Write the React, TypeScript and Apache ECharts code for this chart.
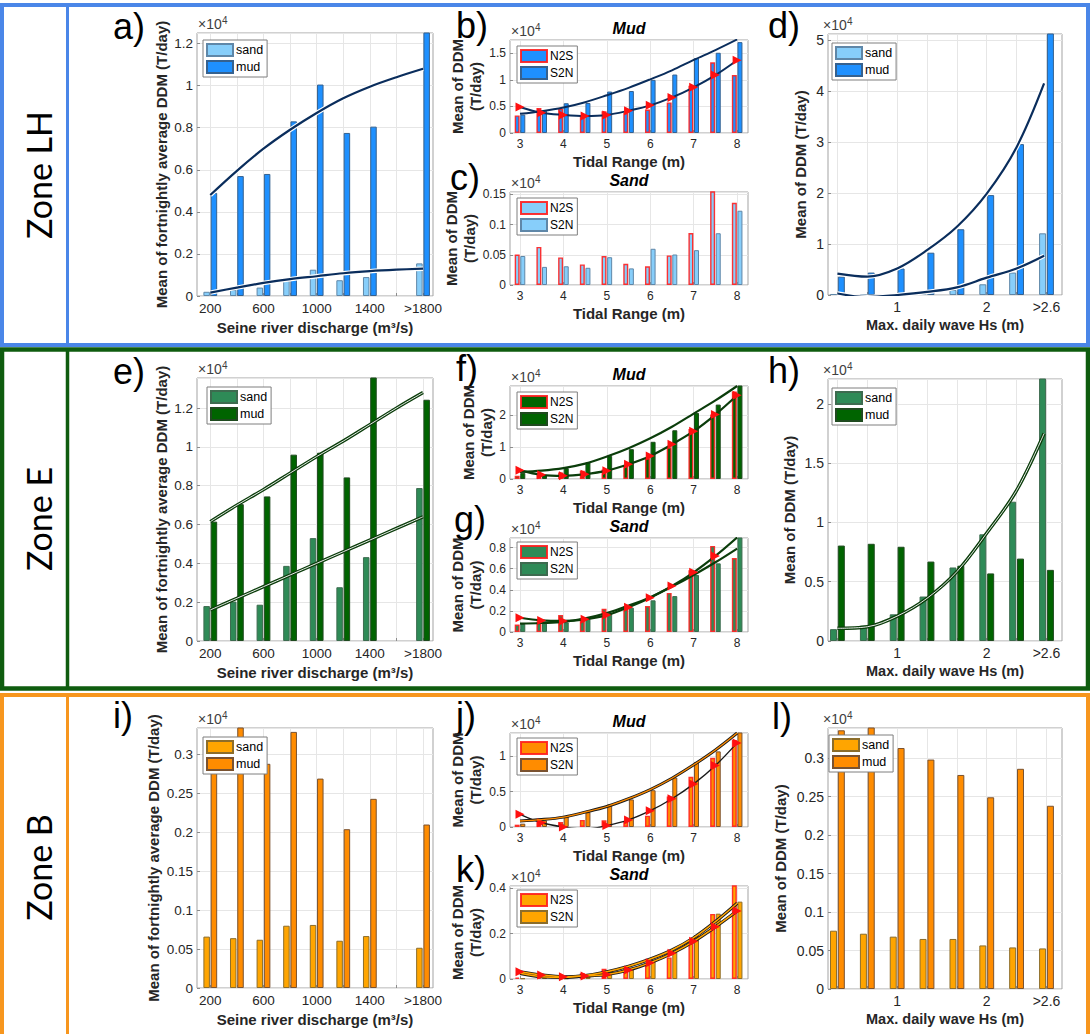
import React, { useEffect, useRef } from 'react';
import * as echarts from 'echarts';

// ---------------- x positions & tick labels ----------------
const dischargeX = [200, 400, 600, 800, 1000, 1200, 1400, 1600, 1800];
const dischargeTickValues = [200, 400, 600, 800, 1000, 1200, 1400, 1600, 1800];
const dischargeLabelValues = [200, 600, 1000, 1400, 1800];
const dischargeLabelTexts = ['200', '600', '1000', '1400', '>1800'];

const tidalX = [3, 3.5, 4, 4.5, 5, 5.5, 6, 6.5, 7, 7.5, 8];
const tidalLabelValues = [3, 4, 5, 6, 7, 8];
const tidalLabelTexts = ['3', '4', '5', '6', '7', '8'];

const waveX = [0.333, 0.667, 1, 1.333, 1.667, 2, 2.333, 2.667];
const waveFitX = [0.333, 0.667, 1, 1.333, 1.667, 2, 2.333, 2.64];
const waveLabelValues = [1, 2, 2.667];
const waveLabelTexts = ['1', '2', '>2.6'];

// ---------------- data (units: x10^4 T/day) ----------------
// a) Zone LH, discharge
const aSand = [0.02, 0.03, 0.04, 0.075, 0.125, 0.075, 0.09, null, 0.155];
const aMud = [0.49, 0.57, 0.58, 0.83, 1.005, 0.775, 0.805, null, 1.3];
const aSandFit = [0.016, 0.04, 0.062, 0.08, 0.094, 0.108, 0.118, 0.125, 0.13];
const aMudFit = [0.48, 0.595, 0.7, 0.79, 0.87, 0.94, 0.995, 1.04, 1.08];
// b) Zone LH, mud vs tidal range
const bN2S = [0.33, 0.47, 0.455, 0.31, 0.41, 0.375, 0.44, 0.575, 0.89, 1.33, 1.09];
const bS2N = [0.345, 0.42, 0.56, 0.565, 0.78, 0.79, 1.0, 1.1, 1.41, 1.51, 1.71];
const bN2SFit = [0.49, 0.38, 0.34, 0.32, 0.34, 0.42, 0.52, 0.67, 0.86, 1.09, 1.37];
const bS2NFit = [0.36, 0.41, 0.48, 0.58, 0.71, 0.85, 1.01, 1.18, 1.375, 1.56, 1.76];
// c) Zone LH, sand vs tidal range
const cN2S = [0.0505, 0.063, 0.0456, 0.034, 0.048, 0.035, 0.031, 0.049, 0.086, 0.16, 0.136];
const cS2N = [0.048, 0.03, 0.031, 0.0285, 0.046, 0.0275, 0.06, 0.0505, 0.0577, 0.0857, 0.123];
// d) Zone LH, wave
const dSand = [0.02, 0.01, 0.02, 0.03, 0.1, 0.21, 0.44, 1.21];
const dMud = [0.36, 0.44, 0.52, 0.83, 1.29, 1.96, 2.96, 5.3];
const dSandFit = [0.03, -0.04, 0.0, 0.06, 0.15, 0.34, 0.52, 0.77];
const dMudFit = [0.42, 0.36, 0.52, 0.88, 1.34, 1.99, 2.9, 4.15];
// e) Zone E, discharge
const eSand = [0.18, 0.203, 0.187, 0.387, 0.53, 0.277, 0.432, null, 0.788];
const eMud = [0.615, 0.705, 0.745, 0.96, 0.97, 0.843, 1.4, null, 1.243];
const eSandFit = [0.16, 0.22, 0.28, 0.34, 0.4, 0.46, 0.52, 0.58, 0.64];
const eMudFit = [0.615, 0.7, 0.78, 0.865, 0.95, 1.03, 1.115, 1.2, 1.28];
// f) Zone E, mud vs tidal range
const fN2S = [0.1, 0.13, 0.2, 0.26, 0.3, 0.41, 0.65, 0.99, 1.56, 2.01, 2.73];
const fS2N = [0.19, 0.13, 0.34, 0.52, 0.72, 0.93, 1.16, 1.52, 2.06, 2.32, 2.95];
const fN2SFit = [0.27, 0.13, 0.1, 0.15, 0.26, 0.46, 0.72, 1.08, 1.49, 2.01, 2.61];
const fS2NFit = [0.22, 0.26, 0.34, 0.48, 0.7, 0.96, 1.27, 1.63, 2.04, 2.45, 2.9];
// g) Zone E, sand vs tidal range
const gN2S = [0.07, 0.1, 0.16, 0.11, 0.22, 0.245, 0.245, 0.37, 0.585, 0.815, 0.7];
const gS2N = [0.076, 0.08, 0.09, 0.125, 0.175, 0.23, 0.3, 0.34, 0.54, 0.65, 0.9];
const gN2SFit = [0.135, 0.11, 0.105, 0.12, 0.16, 0.235, 0.325, 0.435, 0.565, 0.72, 0.895];
const gS2NFit = [0.08, 0.085, 0.095, 0.13, 0.18, 0.25, 0.33, 0.43, 0.54, 0.66, 0.79];
// h) Zone E, wave
const hSand = [0.1, 0.13, 0.225, 0.375, 0.62, 0.9, 1.175, 2.3];
const hMud = [0.805, 0.82, 0.795, 0.67, 0.635, 0.57, 0.695, 0.6];
const hSandFit = [0.107, 0.12, 0.21, 0.36, 0.585, 0.91, 1.27, 1.75];
// i) Zone B, discharge
const iSand = [0.066, 0.064, 0.062, 0.08, 0.081, 0.0607, 0.0667, null, 0.0517];
const iMud = [0.31, 0.34, 0.288, 0.329, 0.269, 0.204, 0.243, null, 0.21];
// j) Zone B, mud vs tidal range
const jN2S = [0.033, 0.07, 0.07, 0.1, 0.095, 0.08, 0.16, 0.43, 0.71, 0.98, 1.23];
const jS2N = [0.047, 0.095, 0.15, 0.21, 0.32, 0.39, 0.52, 0.7, 0.92, 1.07, 1.35];
const jN2SFit = [0.18, 0.06, 0.0, -0.03, 0.02, 0.1, 0.23, 0.4, 0.61, 0.87, 1.19];
const jS2NFit = [0.085, 0.105, 0.14, 0.21, 0.29, 0.4, 0.53, 0.69, 0.88, 1.09, 1.33];
// k) Zone B, sand vs tidal range
const kN2S = [0.006, 0.006, 0.003, 0.025, 0.045, 0.053, 0.065, 0.095, 0.168, 0.287, 0.42];
const kS2N = [0.003, 0.006, 0.003, 0.013, 0.03, 0.05, 0.085, 0.12, 0.194, 0.288, 0.341];
const kN2SFit = [0.032, 0.018, 0.01, 0.013, 0.02, 0.04, 0.072, 0.113, 0.166, 0.23, 0.3];
const kS2NFit = [0.025, 0.01, 0.007, 0.015, 0.032, 0.056, 0.088, 0.128, 0.182, 0.253, 0.334];
// l) Zone B, wave
const lSand = [0.0757, 0.0718, 0.068, 0.065, 0.065, 0.0566, 0.054, 0.0527];
const lMud = [0.336, 0.345, 0.313, 0.298, 0.278, 0.249, 0.286, 0.238];

// ---------------- styles ----------------
const FONT = '"Liberation Sans", Arial, Helvetica, sans-serif';
const COL = {
  lhSand: '#87cefa', lhSandEdge: '#5f87a8', lhMud: '#1e90ff', lhMudEdge: '#35618f',
  eSand: '#2e8b57', eSandEdge: '#3d6b4f', eMud: '#006400', eMudEdge: '#1f4a1f',
  bSand: '#ffa500', bSandEdge: '#8c6d2a', bMud: '#ff8c00', bMudEdge: '#7a5230',
  red: 'rgba(255,30,30,0.9)', navy: '#0a2d5c', dkGreen: '#0b3d0b', black: '#1a1a1a',
};

type Layer = { color: string; width: number };
type Fit = { values: number[]; x?: number[]; layers: Layer[]; markers?: boolean };
type BarDef = { label: string; values: (number | null)[]; color: string; edge: string; edgeWidth?: number };
type Panel = {
  key: string; letter: string; letterPos: [number, number];
  grid: [number, number, number, number];
  kind: 'discharge' | 'tidal' | 'wave';
  yMax: number; yInterval: number; yName: string; yNameGap: number;
  title?: string; legendPos: [number, number];
  bars: BarDef[]; fits: Fit[];
};

const Y_LONG = 'Mean of fortnightly average DDM (T/day)';
const Y_TWO = 'Mean of DDM\n(T/day)';
const Y_ONE = 'Mean of DDM (T/day)';

const haloLH: Layer[] = [{ color: '#ffffff', width: 4.5 }, { color: COL.navy, width: 2.2 }];
const haloE: Layer[] = [{ color: COL.dkGreen, width: 3.4 }, { color: '#ffffff', width: 0.9 }];
const plainLH: Layer[] = [{ color: COL.navy, width: 2 }];
const plainE: Layer[] = [{ color: COL.dkGreen, width: 2.2 }];
const haloBj: Layer[] = [{ color: COL.black, width: 3 }, { color: COL.bMud, width: 1.3 }];
const haloBk: Layer[] = [{ color: COL.black, width: 3.2 }, { color: COL.bSand, width: 1.5 }];

const panels: Panel[] = [
  { key: 'a', letter: 'a)', letterPos: [113, 26], grid: [197, 33, 236, 263], kind: 'discharge', yMax: 1.25, yInterval: 0.2, yName: Y_LONG, yNameGap: 24, legendPos: [203, 40],
    bars: [{ label: 'sand', values: aSand, color: COL.lhSand, edge: COL.lhSandEdge }, { label: 'mud', values: aMud, color: COL.lhMud, edge: COL.lhMudEdge }],
    fits: [{ values: aSandFit, layers: haloLH }, { values: aMudFit, layers: haloLH }] },
  { key: 'b', letter: 'b)', letterPos: [456, 25], grid: [510, 40, 238, 93], kind: 'tidal', yMax: 1.75, yInterval: 0.5, yName: Y_TWO, yNameGap: 26, title: 'Mud', legendPos: [517, 46],
    bars: [{ label: 'N2S', values: bN2S, color: COL.lhMud, edge: COL.red, edgeWidth: 1.4 }, { label: 'S2N', values: bS2N, color: COL.lhMud, edge: COL.lhMudEdge }],
    fits: [{ values: bS2NFit, layers: plainLH }, { values: bN2SFit, layers: plainLH, markers: true }] },
  { key: 'c', letter: 'c)', letterPos: [450, 177], grid: [510, 192, 238, 93], kind: 'tidal', yMax: 0.154, yInterval: 0.05, yName: Y_TWO, yNameGap: 30, title: 'Sand', legendPos: [517, 198],
    bars: [{ label: 'N2S', values: cN2S, color: COL.lhSand, edge: COL.red, edgeWidth: 1.4 }, { label: 'S2N', values: cS2N, color: COL.lhSand, edge: COL.lhSandEdge }],
    fits: [] },
  { key: 'd', letter: 'd)', letterPos: [768, 25], grid: [828, 34, 234, 261], kind: 'wave', yMax: 5.12, yInterval: 1, yName: Y_ONE, yNameGap: 19, legendPos: [832, 43],
    bars: [{ label: 'sand', values: dSand, color: COL.lhSand, edge: COL.lhSandEdge }, { label: 'mud', values: dMud, color: COL.lhMud, edge: COL.lhMudEdge }],
    fits: [{ values: dSandFit, x: waveFitX, layers: haloLH }, { values: dMudFit, x: waveFitX, layers: haloLH }] },
  { key: 'e', letter: 'e)', letterPos: [113, 371], grid: [197, 378, 236, 263], kind: 'discharge', yMax: 1.355, yInterval: 0.2, yName: Y_LONG, yNameGap: 26, legendPos: [207, 387],
    bars: [{ label: 'sand', values: eSand, color: COL.eSand, edge: COL.eSandEdge }, { label: 'mud', values: eMud, color: COL.eMud, edge: COL.eMudEdge }],
    fits: [{ values: eSandFit, layers: haloE }, { values: eMudFit, layers: haloE }] },
  { key: 'f', letter: 'f)', letterPos: [456, 368], grid: [510, 386, 238, 93], kind: 'tidal', yMax: 2.9, yInterval: 1, yName: Y_TWO, yNameGap: 14, title: 'Mud', legendPos: [517, 392],
    bars: [{ label: 'N2S', values: fN2S, color: COL.eMud, edge: COL.red, edgeWidth: 1.4 }, { label: 'S2N', values: fS2N, color: COL.eMud, edge: COL.eMudEdge }],
    fits: [{ values: fS2NFit, layers: plainE }, { values: fN2SFit, layers: plainE, markers: true }] },
  { key: 'g', letter: 'g)', letterPos: [454, 519], grid: [510, 538, 238, 94], kind: 'tidal', yMax: 0.89, yInterval: 0.2, yName: Y_TWO, yNameGap: 26, title: 'Sand', legendPos: [517, 542],
    bars: [{ label: 'N2S', values: gN2S, color: COL.eSand, edge: COL.red, edgeWidth: 1.4 }, { label: 'S2N', values: gS2N, color: COL.eSand, edge: COL.eSandEdge }],
    fits: [{ values: gS2NFit, layers: plainE }, { values: gN2SFit, layers: plainE, markers: true }] },
  { key: 'h', letter: 'h)', letterPos: [768, 370], grid: [828, 379, 234, 262], kind: 'wave', yMax: 2.21, yInterval: 0.5, yName: Y_ONE, yNameGap: 30, legendPos: [832, 388],
    bars: [{ label: 'sand', values: hSand, color: COL.eSand, edge: COL.eSandEdge }, { label: 'mud', values: hMud, color: COL.eMud, edge: COL.eMudEdge }],
    fits: [{ values: hSandFit, x: waveFitX, layers: haloE }] },
  { key: 'i', letter: 'i)', letterPos: [113, 715], grid: [197, 728, 236, 260], kind: 'discharge', yMax: 0.334, yInterval: 0.05, yName: Y_LONG, yNameGap: 31, legendPos: [203, 737],
    bars: [{ label: 'sand', values: iSand, color: COL.bSand, edge: COL.bSandEdge }, { label: 'mud', values: iMud, color: COL.bMud, edge: COL.bMudEdge }],
    fits: [] },
  { key: 'j', letter: 'j)', letterPos: [456, 715], grid: [510, 733, 238, 94], kind: 'tidal', yMax: 1.33, yInterval: 0.5, yName: Y_TWO, yNameGap: 26, title: 'Mud', legendPos: [517, 738],
    bars: [{ label: 'N2S', values: jN2S, color: COL.bMud, edge: COL.red, edgeWidth: 1.4 }, { label: 'S2N', values: jS2N, color: COL.bMud, edge: COL.bMudEdge }],
    fits: [{ values: jS2NFit, layers: haloBj }, { values: jN2SFit, layers: [{ color: COL.black, width: 1.4 }], markers: true }] },
  { key: 'k', letter: 'k)', letterPos: [456, 869], grid: [510, 886, 238, 93], kind: 'tidal', yMax: 0.41, yInterval: 0.2, yName: Y_TWO, yNameGap: 26, title: 'Sand', legendPos: [517, 890],
    bars: [{ label: 'N2S', values: kN2S, color: COL.bSand, edge: COL.red, edgeWidth: 1.4 }, { label: 'S2N', values: kS2N, color: COL.bSand, edge: COL.bSandEdge }],
    fits: [{ values: kS2NFit, layers: haloBk }, { values: kN2SFit, layers: haloBk, markers: true }] },
  { key: 'l', letter: 'l)', letterPos: [772, 716], grid: [828, 728, 234, 261], kind: 'wave', yMax: 0.339, yInterval: 0.05, yName: Y_ONE, yNameGap: 39, legendPos: [829, 735],
    bars: [{ label: 'sand', values: lSand, color: COL.bSand, edge: COL.bSandEdge }, { label: 'mud', values: lMud, color: COL.bMud, edge: COL.bMudEdge }],
    fits: [] },
];

const kinds: Record<string, any> = {
  discharge: { x: dischargeX, min: 100, max: 1875, ticks: dischargeTickValues, lv: dischargeLabelValues, lt: dischargeLabelTexts,
    name: 'Seine river discharge (m³/s)', nameGap: 24, nameSize: 15, labelSize: 13.5, barWidth: 6.5, legendFont: 12.5, expDx: 1 },
  tidal: { x: tidalX, min: 2.77, max: 8.25, ticks: tidalLabelValues, lv: tidalLabelValues, lt: tidalLabelTexts,
    name: 'Tidal Range (m)', nameGap: 21, nameSize: 15, labelSize: 12, barWidth: 5, legendFont: 12, expDx: 1 },
  wave: { x: waveX, min: 0.228, max: 2.84, ticks: waveX, lv: waveLabelValues, lt: waveLabelTexts,
    name: 'Max. daily wave Hs (m)', nameGap: 22, nameSize: 14.5, labelSize: 14, barWidth: 7, legendFont: 12.5, expDx: -5 },
};

const zones = [
  { label: 'Zone LH', color: '#4a86e8', y: 5, h: 340, lw: 4 },
  { label: 'Zone E', color: '#0f5c0f', y: 349.5, h: 339, lw: 4.5 },
  { label: 'Zone B', color: '#f7961e', y: 695, h: 345, lw: 4 },
];

function labelFormatter(values: number[], texts: string[]) {
  return (v: number) => {
    let best = 0;
    values.forEach((x, j) => { if (Math.abs(x - v) < Math.abs(values[best] - v)) best = j; });
    return texts[best];
  };
}

function txt(text: string, x: number, y: number, size: number, extra: any = {}, elExtra: any = {}) {
  const align = extra.align || 'left';
  const valign = extra.verticalAlign || 'middle';
  return {
    type: 'text', x, y, silent: true, ...elExtra,
    style: {
      text, fontSize: size, fontFamily: extra.fontFamily || FONT, fontWeight: extra.fontWeight || 'normal',
      fontStyle: extra.fontStyle || 'normal', fill: extra.fill || '#000',
      align, textAlign: align, verticalAlign: valign, textVerticalAlign: valign,
    },
  };
}

function buildOption() {
  const grid: any[] = [];
  const xAxis: any[] = [];
  const yAxis: any[] = [];
  const series: any[] = [];
  const legend: any[] = [];
  const graphic: any[] = [];

  zones.forEach((z) => {
    graphic.push({ type: 'rect', silent: true, shape: { x: 2, y: z.y, width: 1086, height: z.h }, style: { fill: 'none', stroke: z.color, lineWidth: z.lw } });
    graphic.push({ type: 'line', silent: true, shape: { x1: 67.5, y1: z.y, x2: 67.5, y2: z.y + z.h }, style: { stroke: z.color, lineWidth: z.lw - 1 } });
    graphic.push(txt(z.label, 38, z.y + z.h / 2, 34, { align: 'center', verticalAlign: 'middle', fontFamily: 'Lato, "Open Sans", sans-serif' }, { rotation: Math.PI / 2 }));
  });

  panels.forEach((p, i) => {
    const k = kinds[p.kind];
    const [gl, gt, gw, gh] = p.grid;
    grid.push({ left: gl, top: gt, width: gw, height: gh, show: true, borderColor: '#a3a3a3', borderWidth: 1, backgroundColor: '#fff' });
    xAxis.push({
      type: 'value', gridIndex: i, min: k.min, max: k.max,
      name: k.name, nameLocation: 'middle', nameGap: k.nameGap,
      nameTextStyle: { fontSize: k.nameSize, fontWeight: 'bold', color: '#262626', fontFamily: FONT },
      axisLine: { show: false },
      axisTick: { show: true, inside: true, length: 3, lineStyle: { color: '#8c8c8c' }, customValues: k.ticks },
      axisLabel: { customValues: k.lv, formatter: labelFormatter(k.lv, k.lt), fontSize: k.labelSize, color: '#262626', margin: 5, fontFamily: FONT },
      splitLine: { show: true, lineStyle: { color: '#e6e6e6', width: 1 } },
    });
    yAxis.push({
      type: 'value', gridIndex: i, min: 0, max: p.yMax, interval: p.yInterval,
      name: p.yName, nameLocation: 'middle', nameGap: p.yNameGap, nameRotate: 90,
      nameTextStyle: { fontSize: 15, fontWeight: 'bold', color: '#262626', lineHeight: 18, fontFamily: FONT },
      axisLine: { show: false },
      axisTick: { show: true, inside: true, length: 3, lineStyle: { color: '#8c8c8c' } },
      axisLabel: { showMaxLabel: false, fontSize: k.labelSize, color: '#262626', margin: 4, fontFamily: FONT },
      splitLine: { show: true, lineStyle: { color: '#e6e6e6', width: 1 } },
    });

    const names: string[] = [];
    p.bars.forEach((b) => {
      const name = `${b.label}#${p.key}`;
      names.push(name);
      series.push({
        type: 'bar', name, xAxisIndex: i, yAxisIndex: i, barWidth: k.barWidth, barGap: '12%',
        data: k.x.map((x: number, j: number) => (b.values[j] == null ? null : [x, b.values[j]])).filter((d: any) => d),
        itemStyle: { color: b.color, borderColor: b.edge, borderWidth: b.edgeWidth ?? 1 },
        z: 2, silent: true,
      });
    });
    p.fits.forEach((f) => {
      const xs = f.x ?? k.x;
      const data = f.values.map((v, j) => [xs[j], v]);
      f.layers.forEach((layer, li) => {
        const last = li === f.layers.length - 1;
        const mark = !!(f.markers && last);
        series.push({
          type: 'line', xAxisIndex: i, yAxisIndex: i, data, smooth: 0.35,
          symbol: mark ? 'triangle' : 'none', symbolSize: 9, symbolRotate: -90, showSymbol: mark,
          itemStyle: { color: '#ff1010' }, lineStyle: { color: layer.color, width: layer.width },
          z: 3 + li, silent: true,
        });
      });
    });

    legend.push({
      data: names, left: p.legendPos[0], top: p.legendPos[1], orient: 'vertical', icon: 'rect',
      itemWidth: 26, itemHeight: 12, itemGap: 3, padding: [3, 4, 3, 3], selectedMode: false,
      backgroundColor: '#fff', borderColor: '#7f7f7f', borderWidth: 1, borderRadius: 0, z: 10,
      formatter: (n: string) => n.split('#')[0],
      textStyle: { fontSize: k.legendFont, color: '#000', fontFamily: FONT, padding: [0, 0, 0, -2] },
    });

    // panel letter
    graphic.push(txt(p.letter, p.letterPos[0], p.letterPos[1], 36));
    // exponent label x10^4
    graphic.push(txt('×10', gl + k.expDx, gt - 2, 14, { verticalAlign: 'bottom', fill: '#404040' }));
    graphic.push(txt('4', gl + k.expDx + 24, gt - 8, 10, { verticalAlign: 'bottom', fill: '#404040' }));
    if (p.title) {
      graphic.push(txt(p.title, gl + gw / 2, gt - 12, 16, { align: 'center', fontWeight: 'bold', fontStyle: 'italic' }));
    }
  });

  return {
    animation: false,
    backgroundColor: '#ffffff',
    textStyle: { fontFamily: FONT },
    grid, xAxis, yAxis, series, legend, graphic,
  };
}

export default function App() {
  const ref = useRef<HTMLDivElement>(null);
  useEffect(() => {
    document.body.style.margin = '0';
    const chart = echarts.init(ref.current as HTMLDivElement, null, { renderer: 'svg' });
    chart.setOption(buildOption() as any);
    return () => chart.dispose();
  }, []);
  return <div ref={ref} style={{ position: 'absolute', left: 0, top: 0, width: 1090, height: 1034, background: '#fff' }} />;
}
